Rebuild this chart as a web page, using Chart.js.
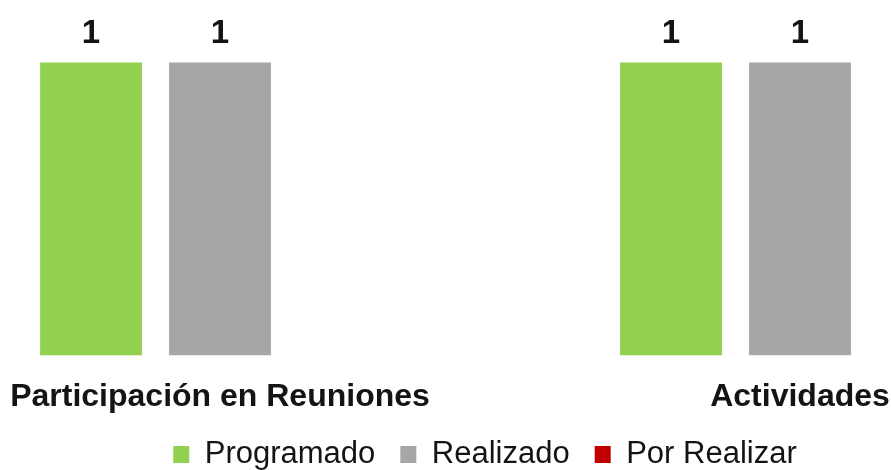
<!DOCTYPE html>
<html>
<head>
<meta charset="utf-8">
<script src="https://cdn.jsdelivr.net/npm/chart.js@4.4.1/dist/chart.umd.min.js"></script>
<style>
    html, body { margin: 0; padding: 0; background: #fff; overflow: hidden; width: 891px; height: 470px; }
    #wrap { position: absolute; left: -120px; top: 0; width: 1210px; height: 480px; }
</style>
</head>
<body>
<div id="wrap"><canvas id="grafico"></canvas></div>
<script>
// datos del grafico
const categorias = ['Participación en Reuniones', 'Actividades'];
const programado = [1, 1];
const realizado = [1, 1];
const porRealizar = [0, 0];

const colores = {
    programado: '#92D050',
    realizado: '#A6A6A6',
    porRealizar: '#C00000'
};

Chart.defaults.font.family = '"Liberation Sans", Arial, sans-serif';
Chart.defaults.color = '#141414';

// etiquetas de valor encima de cada barra
const etiquetasValor = {
    id: 'etiquetasValor',
    afterDatasetsDraw(chart) {
        const ctx = chart.ctx;
        ctx.save();
        ctx.font = 'bold 33px "Liberation Sans", Arial, sans-serif';
        ctx.fillStyle = '#141414';
        ctx.textAlign = 'center';
        ctx.textBaseline = 'alphabetic';
        chart.data.datasets.forEach((ds, i) => {
            chart.getDatasetMeta(i).data.forEach((bar, j) => {
                const v = ds.data[j];
                if (!v) return;
                ctx.fillText(String(v), bar.x, bar.y - 20);
            });
        });
        ctx.restore();
    }
};

const ctx = document.getElementById('grafico').getContext('2d');
new Chart(ctx, {
    type: 'bar',
    data: {
        labels: categorias,
        datasets: [
            { label: 'Programado', data: programado, backgroundColor: colores.programado },
            { label: 'Realizado', data: realizado, backgroundColor: colores.realizado },
            { label: 'Por Realizar', data: porRealizar, backgroundColor: colores.porRealizar }
        ]
    },
    options: {
        responsive: true,
        maintainAspectRatio: false,
        animation: false,
        devicePixelRatio: 1,
        layout: { padding: { top: 4 } },
        datasets: {
            bar: { categoryPercentage: 0.667, barPercentage: 0.79, borderWidth: 0 }
        },
        scales: {
            x: {
                grid: { display: false, drawTicks: false },
                border: { display: false },
                ticks: {
                    font: { size: 32, weight: 'bold' },
                    color: '#141414',
                    padding: 22,
                    maxRotation: 0,
                    autoSkip: false
                },
                // acercar la leyenda a las etiquetas (sin recortar el texto)
                afterFit(scale) { scale.height -= 24; }
            },
            y: {
                min: 0,
                max: 1.2,
                grid: { display: false, drawTicks: false },
                border: { display: false },
                ticks: { display: false },
                afterFit(scale) { scale.width = 50; }
            }
        },
        plugins: {
            legend: {
                position: 'bottom',
                labels: {
                    font: { size: 31 },
                    color: '#141414',
                    boxWidth: 16,
                    boxHeight: 17,
                    padding: 25
                }
            },
            tooltip: { enabled: false }
        }
    },
    plugins: [etiquetasValor]
});
</script>
</body>
</html>
